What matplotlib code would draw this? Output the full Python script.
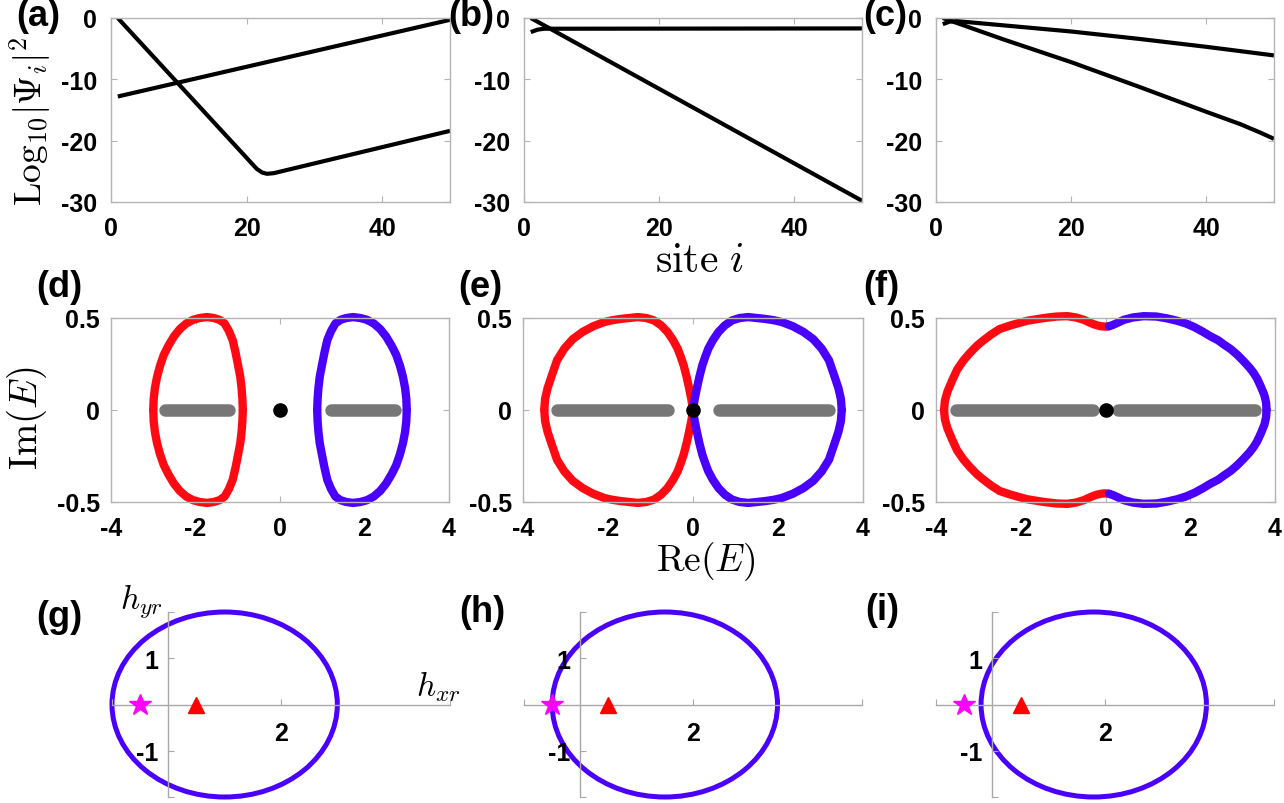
import numpy as np
import matplotlib
matplotlib.use('Agg')
import matplotlib.pyplot as plt
from matplotlib.patches import Ellipse

plt.rcParams['font.family'] = ['Liberation Sans', 'DejaVu Sans']
plt.rcParams['font.weight'] = 'bold'
plt.rcParams['mathtext.fontset'] = 'cm'
plt.rcParams['axes.unicode_minus'] = False

W, H = 1284, 804

# ---- top row: log10 |psi_i|^2 vs site ----
a1_x = [1, 21.5, 22.3, 23, 24, 50]
a1_y = [0, -24.6, -25.2, -25.4, -25.3, -18.4]
a2_x = [1, 50]
a2_y = [-12.8, -0.3]

b1_x = [1, 2, 3, 50]
b1_y = [-2.3, -1.9, -1.75, -1.7]
b2_x = [1, 50]
b2_y = [0, -29.8]

c1_x = [1, 2, 3, 10, 20, 30, 40, 50]
c1_y = [-1.0, -0.6, -0.5, -1.2, -2.2, -3.4, -4.7, -6.1]
c2_x = [1, 10, 20, 30, 40, 45, 48, 50]
c2_y = [0, -3.5, -7.2, -11.2, -15.3, -17.3, -18.7, -19.7]

# ---- middle row: complex spectra (upper halves; lower halves are mirror images) ----
d_red_x = [-3.00, -2.99, -2.96, -2.91, -2.84, -2.75, -2.64, -2.51, -2.37, -2.22, -2.06, -1.90,
           -1.73, -1.57, -1.43, -1.31, -1.21, -1.12, -1.05, -0.99, -0.94, -0.91, -0.89, -0.88]
d_red_y = [0, 0.06, 0.12, 0.18, 0.24, 0.30, 0.35, 0.40, 0.44, 0.47, 0.49, 0.50,
           0.505, 0.50, 0.49, 0.47, 0.43, 0.38, 0.31, 0.24, 0.18, 0.12, 0.06, 0]
d_gray = [1.21, 2.72]

e_red_x = [0, -0.04, -0.09, -0.15, -0.22, -0.29, -0.36, -0.47, -0.6, -0.75, -0.92, -1.1, -1.3,
           -1.5, -1.7, -1.9, -2.09, -2.35, -2.6, -2.83, -3.03, -3.2, -3.32, -3.42, -3.48, -3.5]
e_red_y = [0, 0.06, 0.117, 0.18, 0.243, 0.29, 0.333, 0.38, 0.424, 0.46, 0.487, 0.50, 0.505,
           0.50, 0.495, 0.488, 0.478, 0.455, 0.424, 0.385, 0.333, 0.27, 0.189, 0.12, 0.06, 0]
e_gray = [0.6, 3.21]

f_red_x = [0.08, 0.0, -0.1, -0.2, -0.3, -0.4, -0.51, -0.7, -0.9, -1.15, -1.45, -1.85, -2.24,
           -2.5, -2.7, -2.9, -3.03, -3.2, -3.35, -3.5, -3.62, -3.73, -3.79, -3.81]
f_red_y = [0.455, 0.453, 0.455, 0.46, 0.468, 0.478, 0.49, 0.503, 0.51, 0.508, 0.50, 0.485, 0.46,
           0.44, 0.41, 0.375, 0.35, 0.31, 0.27, 0.22, 0.16, 0.10, 0.05, 0]
f_blue_x = [0.08, 0.17, 0.25, 0.34, 0.43, 0.65, 0.9, 1.2, 1.45, 1.69, 1.9, 2.1, 2.3, 2.48,
            2.65, 2.8, 2.96, 3.11, 3.26, 3.4, 3.5, 3.58, 3.67, 3.75, 3.79, 3.80]
f_blue_y = [0.455, 0.462, 0.47, 0.48, 0.49, 0.503, 0.51, 0.508, 0.498, 0.485, 0.47, 0.45, 0.425, 0.40,
            0.38, 0.355, 0.33, 0.30, 0.265, 0.23, 0.20, 0.17, 0.125, 0.08, 0.04, 0]
f_gray = [0.3, 3.53]

# ---- bottom row: circles in the (h_xr, h_yr) plane ----
circle_cx = [1.0, 1.5, 1.8]
circle_r = 2.0
star_x = -0.5
tri_x = 0.5

RED = '#ff0a12'
BLUE = '#4a00ff'
GRAY = '#777777'
SPINE = '#b4b4b4'

fig = plt.figure(figsize=(W / 100, H / 100), dpi=100)


def add_ax(x0, x1, y0, y1):
    return fig.add_axes([x0 / W, 1 - y1 / H, (x1 - x0) / W, (y1 - y0) / H])


def style_box(ax, xpad, ypad):
    for s in ax.spines.values():
        s.set_color(SPINE)
        s.set_linewidth(1)
    ax.tick_params(direction='in', length=4, color=SPINE, top=True, right=True,
                   labelsize=18, labelcolor='black')
    ax.tick_params(axis='x', pad=xpad)
    ax.tick_params(axis='y', pad=ypad)


# top row
top_cols = [(111, 450), (524, 862), (936, 1274)]
top_data = [[(a1_x, a1_y), (a2_x, a2_y)],
            [(b1_x, b1_y), (b2_x, b2_y)],
            [(c1_x, c1_y), (c2_x, c2_y)]]
for (x0, x1), curves in zip(top_cols, top_data):
    ax = add_ax(x0, x1, 19, 203)
    for cx, cy in curves:
        ax.plot(cx, cy, color='black', lw=3, solid_joinstyle='round', solid_capstyle='butt')
    ax.set_xlim(0, 50)
    ax.set_ylim(-30, 0)
    ax.set_xticks([0, 20, 40])
    ax.set_yticks([0, -10, -20, -30])
    style_box(ax, 10, 10)

# middle row
mid_cols = [(111, 449), (523, 863), (936, 1275)]
mid_data = [
    (d_red_x, d_red_y, [-v for v in d_red_x], d_red_y, d_gray),
    (e_red_x, e_red_y, [-v for v in e_red_x], e_red_y, e_gray),
    (f_red_x, f_red_y, f_blue_x, f_blue_y, f_gray),
]
for (x0, x1), (rx, ry, bx, by, gr) in zip(mid_cols, mid_data):
    ax = add_ax(x0, x1, 319, 503)
    for px, py, col in [(rx, ry, RED), (bx, by, BLUE)]:
        for sgn in (1, -1):
            ax.plot(px, [sgn * v for v in py], color=col, lw=6, clip_on=False,
                    solid_capstyle='round', solid_joinstyle='round')
    ax.plot([-gr[1], -gr[0]], [0, 0], color=GRAY, lw=9, solid_capstyle='round')
    ax.plot([gr[0], gr[1]], [0, 0], color=GRAY, lw=9, solid_capstyle='round')
    ax.plot([0], [0], 'o', color='black', ms=9.5)
    ax.set_xlim(-4, 4)
    ax.set_ylim(-0.5, 0.5)
    ax.set_xticks([-4, -2, 0, 2, 4])
    ax.set_yticks([-0.5, 0, 0.5])
    ax.set_yticklabels(['-0.5', '0', '0.5'])
    style_box(ax, 10, 8)

# bottom row
bot_cols = [(112, 450), (524, 862), (936, 1274)]
for (x0, x1), cx in zip(bot_cols, circle_cx):
    ax = add_ax(x0, x1, 613, 798)
    ax.set_xlim(-1, 5)
    ax.set_ylim(-2, 2)
    ax.add_patch(Ellipse((cx, 0), 2 * circle_r, 2 * circle_r, fill=False,
                         edgecolor=BLUE, lw=3.6, clip_on=False))
    ax.plot([star_x], [0], '*', color='#ff00ff', ms=16.5, clip_on=False, zorder=5)
    ax.plot([tri_x], [0], '^', color='#ff0000', ms=12, zorder=5)
    ax.spines['left'].set_position('zero')
    ax.spines['bottom'].set_position('zero')
    ax.spines['top'].set_visible(False)
    ax.spines['right'].set_visible(False)
    for s in ('left', 'bottom'):
        ax.spines[s].set_color('#a8a8a8')
        ax.spines[s].set_linewidth(1)
    ax.set_xticks([-1, 2, 5])
    ax.set_xticklabels(['', '2', ''])
    ax.set_yticks([-2, -1, 1, 2])
    ax.set_yticklabels(['', '-1', '1', ''])
    ax.tick_params(direction='in', length=4, color='#a8a8a8', labelsize=18)
    ax.tick_params(axis='x', pad=12)
    ax.tick_params(axis='y', pad=7)
    ax.patch.set_alpha(0)


def ftext(x, y, s, **kw):
    fig.text(x / W, 1 - y / H, s, ha='center', va='center', **kw)


for lab, x, y in [('(a)', 38, 16), ('(b)', 471, 16), ('(c)', 885, 16),
                  ('(d)', 59, 288), ('(e)', 480, 288), ('(f)', 881, 288),
                  ('(g)', 59, 618), ('(h)', 482, 613), ('(i)', 882, 610)]:
    ftext(x, y, lab, fontsize=26, fontweight='bold')

ftext(30, 121, r'$\mathrm{Log}_{10}|\Psi_i|^2$', fontsize=27, rotation=90)
ftext(700, 261, r'$\mathrm{site}\ i$', fontsize=30)
ftext(27, 418, r'$\mathrm{Im}(E)$', fontsize=28, rotation=90)
ftext(706, 562, r'$\mathrm{Re}(E)$', fontsize=27)
ftext(141, 601, r'$h_{yr}$', fontsize=24)
ftext(438, 687, r'$h_{xr}$', fontsize=24)

fig.savefig('out.png', dpi=100)
